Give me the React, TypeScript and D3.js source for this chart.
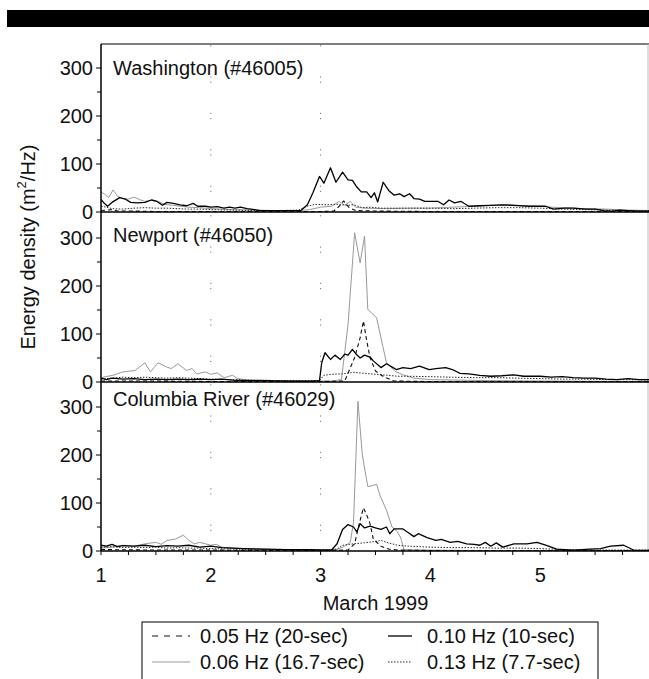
import React from "react";
import * as d3 from "d3";

type Pt = [number, number];

// ---------- data (day of March 1999, energy density m^2/Hz) ----------
const DAY_TICKS = [1, 2, 3, 4, 5];
const DAY_MINOR = [1, 1.25, 1.5, 1.75, 2, 2.25, 2.5, 2.75, 3, 3.25, 3.5, 3.75, 4, 4.25, 4.5, 4.75, 5, 5.25, 5.5, 5.75, 6];
const Y_TICKS = [0, 100, 200, 300];
const Y_MINOR = [50, 150, 250];
const GRID_DAYS = [2, 3];
const STATIONS = ["Washington (#46005)", "Newport (#46050)", "Columbia River (#46029)"];
const BANDS = ["0.05 Hz (20-sec)", "0.06 Hz (16.7-sec)", "0.10 Hz (10-sec)", "0.13 Hz (7.7-sec)"];
const X_TITLE = "March 1999";

// Washington (#46005)
const wa05: Pt[] = [[1.0,3],[1.1,5],[1.15,2],[1.3,2],[1.5,1],[2.0,1],[2.5,1],[3.0,1],[3.12,2],[3.17,12],[3.21,23],[3.26,9],[3.32,3],[3.5,2],[4.0,1],[5.0,1],[6.0,1]];
const wa06: Pt[] = [[1.0,42],[1.04,36],[1.07,30],[1.11,46],[1.15,33],[1.2,28],[1.25,27],[1.3,31],[1.35,26],[1.4,22],[1.46,25],[1.52,22],[1.58,16],[1.65,14],[1.72,12],[1.8,10],[1.9,9],[2.0,7],[2.1,6],[2.2,5],[2.4,4],[2.6,3],[2.8,3],[2.9,5],[3.0,10],[3.1,12],[3.17,22],[3.22,14],[3.27,22],[3.32,10],[3.4,8],[3.6,7],[3.8,8],[4.0,8],[4.2,10],[4.4,12],[4.55,14],[4.7,15],[4.85,13],[5.0,12],[5.1,10],[5.2,9],[5.4,7],[5.6,6],[5.8,4],[6.0,3]];
const wa10: Pt[] = [[1.0,26],[1.03,18],[1.06,12],[1.1,20],[1.17,30],[1.22,27],[1.27,20],[1.33,19],[1.4,20],[1.46,25],[1.51,22],[1.56,14],[1.6,20],[1.66,18],[1.72,15],[1.78,13],[1.84,18],[1.88,12],[1.95,12],[2.0,10],[2.06,11],[2.12,8],[2.17,10],[2.22,8],[2.27,10],[2.33,7],[2.4,5],[2.45,3],[2.6,3],[2.75,3],[2.82,3],[2.88,15],[2.93,40],[2.99,74],[3.03,60],[3.09,92],[3.14,62],[3.2,83],[3.25,67],[3.29,66],[3.33,52],[3.37,42],[3.42,42],[3.46,30],[3.49,40],[3.52,21],[3.57,62],[3.62,45],[3.67,35],[3.72,38],[3.76,32],[3.81,38],[3.85,28],[3.9,27],[3.95,22],[4.0,22],[4.07,22],[4.12,15],[4.17,25],[4.22,19],[4.28,22],[4.35,12],[4.45,13],[4.55,14],[4.66,15],[4.76,14],[4.9,12],[5.05,12],[5.12,6],[5.22,8],[5.3,8],[5.42,6],[5.5,6],[5.58,3],[5.65,2],[5.72,4],[5.8,3],[5.9,2],[6.0,2]];
const wa13: Pt[] = [[1.0,12],[1.05,10],[1.1,7],[1.2,6],[1.3,8],[1.4,9],[1.5,8],[1.6,8],[1.7,7],[1.8,6],[1.9,6],[2.0,5],[2.2,4],[2.4,3],[2.6,3],[2.8,4],[2.88,12],[2.95,16],[3.05,15],[3.15,16],[3.25,14],[3.3,15],[3.38,9],[3.45,10],[3.55,8],[3.7,8],[3.85,8],[4.0,8],[4.2,7],[4.4,8],[4.6,9],[4.8,9],[5.0,8],[5.2,6],[5.4,5],[5.6,4],[5.8,3],[6.0,3]];

// Newport (#46050)
const np05: Pt[] = [[1.0,2],[1.5,2],[2.0,1],[2.5,1],[3.0,1],[3.22,2],[3.31,51],[3.36,92],[3.39,127],[3.42,86],[3.45,51],[3.5,23],[3.58,10],[3.67,2],[4.0,1],[5.0,1],[6.0,1]];
const np06: Pt[] = [[1.0,8],[1.02,10],[1.11,14],[1.2,21],[1.31,24],[1.4,40],[1.45,21],[1.52,40],[1.6,31],[1.64,28],[1.7,38],[1.78,24],[1.83,28],[1.87,17],[1.95,21],[2.0,16],[2.06,19],[2.12,9],[2.2,14],[2.24,7],[2.35,4],[2.6,3],[2.9,2],[3.1,2],[3.19,5],[3.25,120],[3.31,311],[3.36,248],[3.4,304],[3.43,151],[3.51,134],[3.55,92],[3.6,40],[3.68,22],[3.75,15],[3.85,8],[4.0,5],[4.5,3],[5.0,2],[6.0,1]];
const np10: Pt[] = [[1.0,8],[1.05,5],[1.1,8],[1.2,6],[1.3,7],[1.4,5],[1.5,6],[1.6,5],[1.7,6],[1.8,5],[1.9,6],[2.0,5],[2.1,6],[2.2,4],[2.3,3],[2.5,3],[2.7,2],[2.9,2],[2.99,3],[3.01,40],[3.04,61],[3.09,47],[3.13,56],[3.18,47],[3.22,58],[3.25,56],[3.29,68],[3.32,59],[3.36,50],[3.4,56],[3.45,52],[3.48,44],[3.55,30],[3.6,38],[3.66,30],[3.69,26],[3.75,30],[3.82,28],[3.9,33],[3.99,26],[4.05,28],[4.14,30],[4.2,26],[4.27,18],[4.35,17],[4.45,14],[4.55,12],[4.65,13],[4.76,15],[4.85,12],[5.0,12],[5.1,10],[5.2,11],[5.3,9],[5.4,8],[5.5,8],[5.6,6],[5.7,5],[5.8,7],[5.9,5],[6.0,5]];
const np13: Pt[] = [[1.0,6],[1.1,8],[1.2,10],[1.3,9],[1.4,10],[1.5,9],[1.6,8],[1.7,9],[1.8,8],[1.9,7],[2.0,6],[2.2,5],[2.4,4],[2.6,3],[2.8,3],[2.99,3],[3.03,14],[3.1,16],[3.2,17],[3.3,20],[3.4,18],[3.5,16],[3.6,14],[3.7,12],[3.8,12],[4.0,11],[4.2,10],[4.4,9],[4.6,9],[4.8,8],[5.0,7],[5.2,6],[5.4,6],[5.6,5],[5.8,5],[6.0,4]];

// Columbia River (#46029)
const cr05: Pt[] = [[1.0,3],[1.5,2],[2.0,2],[2.5,1],[3.0,1],[3.25,2],[3.31,15],[3.35,55],[3.39,90],[3.42,75],[3.45,57],[3.48,25],[3.55,10],[3.62,4],[3.7,2],[4.0,1],[5.0,1],[6.0,1]];
const cr06: Pt[] = [[1.0,6],[1.1,8],[1.2,12],[1.3,10],[1.4,15],[1.5,18],[1.55,14],[1.6,22],[1.68,25],[1.75,33],[1.8,22],[1.85,15],[1.9,18],[2.0,12],[2.05,14],[2.1,8],[2.2,6],[2.4,4],[2.6,3],[2.8,2],[3.0,2],[3.15,3],[3.22,10],[3.27,18],[3.3,60],[3.34,312],[3.38,200],[3.43,134],[3.47,136],[3.51,139],[3.54,116],[3.6,85],[3.65,50],[3.7,40],[3.73,27],[3.76,3],[3.9,2],[4.5,1],[6.0,1]];
const cr10: Pt[] = [[1.0,12],[1.05,10],[1.1,14],[1.15,9],[1.2,11],[1.3,10],[1.4,12],[1.5,9],[1.6,11],[1.7,10],[1.8,12],[1.9,8],[2.0,10],[2.1,7],[2.2,6],[2.3,5],[2.5,4],[2.7,3],[2.9,3],[3.1,2],[3.15,15],[3.2,45],[3.25,55],[3.3,50],[3.33,40],[3.36,57],[3.4,48],[3.45,52],[3.5,48],[3.55,45],[3.6,50],[3.63,36],[3.67,46],[3.75,46],[3.8,38],[3.85,30],[3.89,36],[3.97,28],[4.05,22],[4.1,24],[4.18,18],[4.25,20],[4.33,15],[4.4,14],[4.45,12],[4.5,18],[4.55,10],[4.6,17],[4.66,8],[4.76,15],[4.88,15],[4.97,18],[5.05,12],[5.15,4],[5.3,2],[5.45,4],[5.55,5],[5.64,10],[5.76,12],[5.85,2],[6.0,1]];
const cr13: Pt[] = [[1.0,8],[1.1,9],[1.2,7],[1.3,8],[1.4,7],[1.5,8],[1.6,6],[1.7,7],[1.8,6],[1.9,6],[2.0,5],[2.2,4],[2.4,3],[2.6,3],[2.8,2],[3.0,2],[3.15,4],[3.2,12],[3.3,15],[3.4,17],[3.5,20],[3.55,22],[3.6,18],[3.7,12],[3.8,10],[3.9,9],[4.0,8],[4.2,7],[4.4,7],[4.6,6],[4.8,6],[5.0,5],[5.2,3],[5.5,2],[6.0,2]];

const PANEL_SERIES: Pt[][][] = [
  [wa05, wa06, wa10, wa13],
  [np05, np06, np10, np13],
  [cr05, cr06, cr10, cr13],
];

// ---------- styling / layout ----------
const FONT = "'Liberation Sans', Arial, Helvetica, sans-serif";
const FS = 20;
const W = 649;
const H = 679;
const AXIS_X = 101;
const RIGHT_X = 650;
const PANEL_ZERO = [212, 382, 551];
const PANEL_PX = 168; // pixels for 350 units
const Y_MAX = 350;
const TITLE_DY = [7, 4, -1];

const BAND_STYLE = [
  { stroke: "#111", width: 1.1, dash: "4,3" },
  { stroke: "#999", width: 1, dash: "" },
  { stroke: "#000", width: 1.3, dash: "" },
  { stroke: "#2a2a2a", width: 1, dash: "1.5,1.5" },
];
const DRAW_ORDER = [1, 3, 0, 2];

export default function App() {
  const x = d3.scaleLinear().domain([1, 6]).range([AXIS_X, RIGHT_X]);
  const yScales = PANEL_ZERO.map((z) =>
    d3.scaleLinear().domain([0, Y_MAX]).range([z, z - PANEL_PX])
  );
  const bottom = PANEL_ZERO[2];
  const top = PANEL_ZERO[0] - PANEL_PX;

  return (
    <svg
      width={W}
      height={H}
      style={{ position: "absolute", left: 0, top: 0, background: "#fff" }}
      fontFamily={FONT}
    >
      <rect x={0} y={0} width={W} height={H} fill="#fff" />
      {/* header bar */}
      <rect x={7} y={10} width={W - 7} height={17} fill="#000" />

      <defs>
        {yScales.map((ys, i) => (
          <clipPath id={`clip${i}`} key={i}>
            <rect x={AXIS_X} y={ys(Y_MAX) - 2} width={RIGHT_X - AXIS_X} height={PANEL_PX + 2} />
          </clipPath>
        ))}
      </defs>

      {/* frame top & right */}
      <line x1={AXIS_X} x2={W} y1={top} y2={top} stroke="#555" strokeWidth={1.4} />
      <line x1={W - 1} x2={W - 1} y1={top} y2={bottom} stroke="#bbb" strokeWidth={1} />

      {yScales.map((ys, pi) => (
        <g key={pi}>
          {/* sparse dotted grid at days */}
          {GRID_DAYS.map((d) => (
            <line
              key={d}
              x1={x(d)}
              x2={x(d)}
              y1={ys(0) - 20}
              y2={ys(Y_MAX)}
              stroke="#777"
              strokeWidth={1}
              strokeDasharray="1.2,4,1.2,30"
            />
          ))}
          {/* series */}
          <g clipPath={`url(#clip${pi})`}>
            {DRAW_ORDER.map((bi) => {
              const line = d3
                .line<Pt>()
                .x((p) => x(p[0]))
                .y((p) => ys(p[1]));
              const st = BAND_STYLE[bi];
              return (
                <path
                  key={bi}
                  d={line(PANEL_SERIES[pi][bi]) || ""}
                  fill="none"
                  stroke={st.stroke}
                  strokeWidth={st.width}
                  strokeDasharray={st.dash || undefined}
                  strokeLinejoin="round"
                />
              );
            })}
          </g>
          {/* zero line */}
          <line x1={AXIS_X} x2={W} y1={ys(0)} y2={ys(0)} stroke="#000" strokeWidth={1.5} />
          {/* y ticks */}
          {Y_TICKS.map((t) => (
            <g key={t}>
              <line x1={AXIS_X - 5} x2={AXIS_X} y1={ys(t)} y2={ys(t)} stroke="#000" strokeWidth={1} />
              <text x={AXIS_X - 8} y={ys(t)} dy="0.36em" textAnchor="end" fontSize={FS} fill="#111">
                {t}
              </text>
            </g>
          ))}
          {Y_MINOR.map((t) => (
            <line key={t} x1={AXIS_X - 4} x2={AXIS_X} y1={ys(t)} y2={ys(t)} stroke="#000" strokeWidth={1} />
          ))}
          {/* station title */}
          <text x={113} y={ys(300) + TITLE_DY[pi]} fontSize={FS} fill="#111">
            {STATIONS[pi]}
          </text>
        </g>
      ))}

      {/* left axis */}
      <line x1={AXIS_X} x2={AXIS_X} y1={top} y2={bottom} stroke="#000" strokeWidth={1.5} />

      {/* x ticks */}
      {DAY_MINOR.map((d) => (
        <line key={d} x1={x(d)} x2={x(d)} y1={bottom} y2={bottom + 4} stroke="#000" strokeWidth={1} />
      ))}
      {DAY_TICKS.map((d) => (
        <text key={d} x={x(d)} y={bottom + 31} textAnchor="middle" fontSize={FS} fill="#111">
          {String(d)}
        </text>
      ))}
      <text x={(AXIS_X + RIGHT_X) / 2} y={bottom + 59} textAnchor="middle" fontSize={FS} fill="#111">
        {X_TITLE}
      </text>

      {/* y title */}
      <text transform="translate(35,247) rotate(-90)" textAnchor="middle" fontSize={FS} fill="#111">
        Energy density (m
        <tspan dy={-9} fontSize={13}>2</tspan>
        <tspan dy={9}>/Hz)</tspan>
      </text>

      {/* legend */}
      <rect x={142} y={622} width={456} height={62} fill="#fff" stroke="#000" strokeWidth={1} />
      {BANDS.map((label, i) => {
        const col = Math.floor(i / 2);
        const row = i % 2;
        const cy = 636 + row * 26;
        const sx0 = col === 0 ? 152 : 388;
        const sx1 = col === 0 ? 190 : 412;
        const tx = col === 0 ? 200 : 427;
        const st = BAND_STYLE[i];
        return (
          <g key={label}>
            <line
              x1={sx0}
              x2={sx1}
              y1={cy}
              y2={cy}
              stroke={st.stroke}
              strokeWidth={st.width}
              strokeDasharray={i === 0 ? "6,6" : st.dash || undefined}
            />
            <text x={tx} y={cy} dy="0.36em" fontSize={FS} fill="#111">
              {label}
            </text>
          </g>
        );
      })}
    </svg>
  );
}
